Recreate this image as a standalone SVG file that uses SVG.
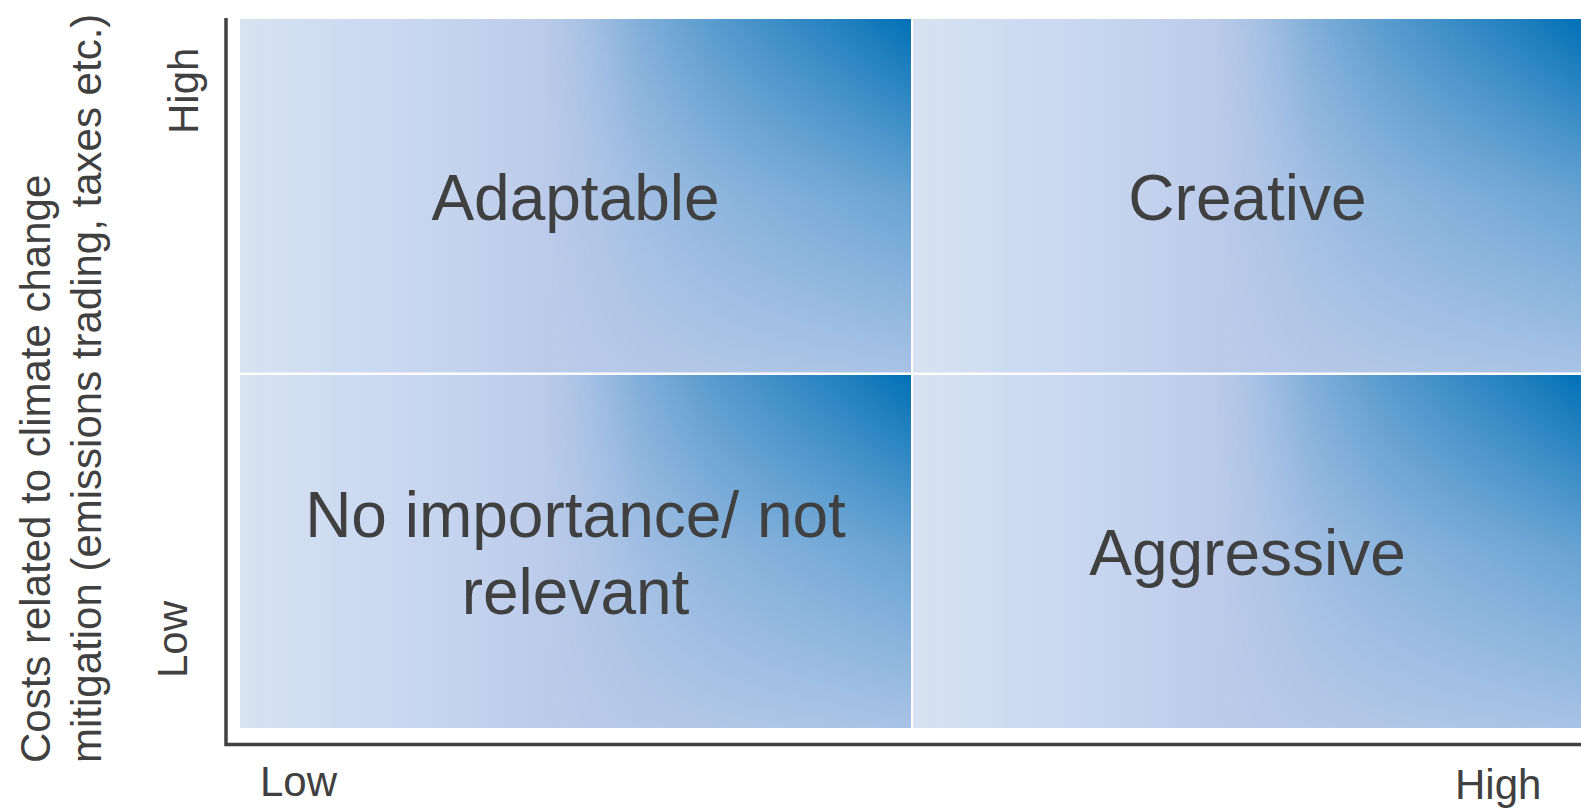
<svg xmlns="http://www.w3.org/2000/svg" width="1581" height="808" viewBox="0 0 1581 808">
  <style>
    text { font-family: "Liberation Sans", Arial, sans-serif; fill: #404040; }
    .quad-label { font-size: 64px; text-anchor: middle; }
    .axis-label { font-size: 42px; }
    .base { fill: url(#baseFill); }
    .tint { fill: url(#tintFill); }
    .axis { fill: none; stroke: #404040; stroke-width: 3.5; }
  </style>
  <defs>
    <!-- pale blue ground of every quadrant -->
    <linearGradient id="baseFill" x1="0" y1="0" x2="1" y2="0">
      <stop offset="0" stop-color="#d8e3f0"/>
      <stop offset="0.15" stop-color="#cddbf2"/>
      <stop offset="0.3" stop-color="#c6d5ee"/>
      <stop offset="0.45" stop-color="#bccbea"/>
      <stop offset="1" stop-color="#b8cbea"/>
    </linearGradient>
    <!-- deep blue that builds up towards the right edge -->
    <linearGradient id="tintFill" x1="0" y1="0" x2="1" y2="0">
      <stop offset="0.45" stop-color="#0070b5" stop-opacity="0"/>
      <stop offset="0.5" stop-color="#0070b5" stop-opacity="0.08"/>
      <stop offset="0.55" stop-color="#0070b5" stop-opacity="0.19"/>
      <stop offset="0.6" stop-color="#0070b5" stop-opacity="0.32"/>
      <stop offset="0.7" stop-color="#0070b5" stop-opacity="0.52"/>
      <stop offset="0.8" stop-color="#0070b5" stop-opacity="0.68"/>
      <stop offset="0.9" stop-color="#0070b5" stop-opacity="0.83"/>
      <stop offset="1" stop-color="#0070b5" stop-opacity="1"/>
    </linearGradient>
    <!-- blue fades out towards the bottom of each quadrant -->
    <linearGradient id="fadeDown" x1="0" y1="0" x2="0" y2="1">
      <stop offset="0" stop-color="#ffffff"/>
      <stop offset="0.5" stop-color="#707070"/>
      <stop offset="1" stop-color="#161616"/>
    </linearGradient>
    <mask id="fadeMask" maskContentUnits="objectBoundingBox">
      <rect x="0" y="0" width="1" height="1" fill="url(#fadeDown)"/>
    </mask>
  </defs>

  <rect width="1581" height="808" fill="#ffffff"/>

  <!-- quadrants -->
  <g id="adaptable">
    <rect class="base" x="240" y="19" width="671" height="353.5"/>
    <rect class="tint" x="240" y="19" width="671" height="353.5" mask="url(#fadeMask)"/>
    <text class="quad-label" x="575.5" y="220">Adaptable</text>
  </g>
  <g id="creative">
    <rect class="base" x="913" y="19" width="669" height="353.5"/>
    <rect class="tint" x="913" y="19" width="669" height="353.5" mask="url(#fadeMask)"/>
    <text class="quad-label" x="1247.5" y="220">Creative</text>
  </g>
  <g id="no-importance">
    <rect class="base" x="240" y="375" width="671" height="353"/>
    <rect class="tint" x="240" y="375" width="671" height="353" mask="url(#fadeMask)"/>
    <text class="quad-label" x="575.5" y="537">No importance/ not</text>
    <text class="quad-label" x="575.5" y="614">relevant</text>
  </g>
  <g id="aggressive">
    <rect class="base" x="913" y="375" width="669" height="353"/>
    <rect class="tint" x="913" y="375" width="669" height="353" mask="url(#fadeMask)"/>
    <text class="quad-label" x="1247.5" y="575">Aggressive</text>
  </g>

  <!-- axes -->
  <g id="axes">
    <path class="axis" d="M226,18 V744.5 H1581"/>
  </g>

  <!-- axis labels -->
  <g id="x-axis-labels">
    <text class="axis-label" x="260" y="795.5">Low</text>
    <text class="axis-label" x="1455" y="799">High</text>
  </g>
  <g id="y-axis-labels">
    <text class="axis-label" transform="translate(198,134) rotate(-90)">High</text>
    <text class="axis-label" transform="translate(187,678) rotate(-90)">Low</text>
    <text class="axis-label" transform="translate(50,763) rotate(-90)">Costs related to climate change</text>
    <text class="axis-label" transform="translate(100.5,763) rotate(-90)">mitigation (emissions trading, taxes etc.)</text>
  </g>
</svg>
